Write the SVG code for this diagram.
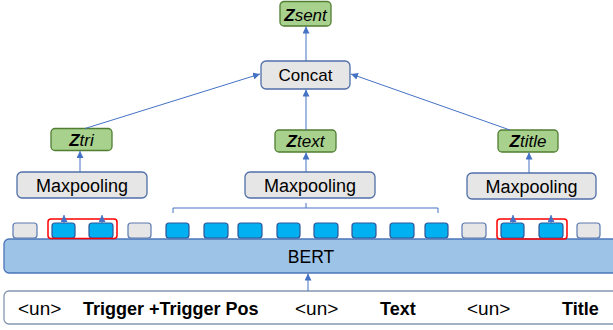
<svg xmlns="http://www.w3.org/2000/svg" width="613" height="330" viewBox="0 0 613 330">
  <style>
    text { font-family: "Liberation Sans", Arial, sans-serif; fill: #000; }
    .z { fill: #a9d18e; stroke: #507e32; stroke-width: 1.3; }
    .g { fill: #e7e6e6; stroke: #4f6fa8; stroke-width: 1.3; }
    .tokb { fill: #00b0f0; stroke: #2f5597; stroke-width: 1.2; }
    .tokg { fill: #e7e6e6; stroke: #5a7ab0; stroke-width: 1.2; }
    .sel { fill: none; stroke: #ff0000; stroke-width: 1.5; }
    .bert { fill: #9dc3e6; stroke: #4a76b8; stroke-width: 1.3; }
    .inp { fill: #ffffff; stroke: #8497b0; stroke-width: 1.3; }
    .lbl { font-size: 17px; font-style: italic; }
    .lbl .zz { font-weight: bold; }
    .mp { font-size: 18px; }
    .in { font-size: 18px; }
    .un { font-size: 19px; }
    .b { font-weight: bold; }
    .ln { fill: none; stroke: #4472c4; stroke-width: 1; }
  </style>
  <defs>
    <marker id="ah" viewBox="0 0 10 10" refX="10" refY="5" markerWidth="7" markerHeight="7" orient="auto" markerUnits="userSpaceOnUse">
      <path d="M0,0 L10,5 L0,10 z" fill="#4472c4"/>
    </marker>
  </defs>

  <!-- input sequence -->
  <g id="input">
    <rect class="inp" x="4" y="291" width="615" height="33" rx="5"/>
    <text class="un" x="18" y="315">&lt;un&gt;</text>
    <text class="in b" x="83" y="315">Trigger +Trigger Pos</text>
    <text class="un" x="295" y="315">&lt;un&gt;</text>
    <text class="in b" x="380" y="315">Text</text>
    <text class="un" x="467" y="315">&lt;un&gt;</text>
    <text class="in b" x="562" y="315" font-size="19">Title</text>
  </g>

  <!-- encoder -->
  <g id="bert">
    <rect class="bert" x="4" y="239" width="615" height="34" rx="5"/>
    <text x="311" y="263" font-size="17.5" text-anchor="middle">BERT</text>
  </g>

  <!-- token outputs -->
  <g id="tokens">
    <rect class="tokg" x="13" y="223" width="24" height="15" rx="3"/>
    <rect class="tokb" x="52" y="223" width="23" height="15" rx="3"/>
    <rect class="tokb" x="89" y="223" width="24" height="15" rx="3"/>
    <rect class="tokg" x="128" y="223" width="23" height="15" rx="3"/>
    <rect class="tokb" x="166" y="223" width="23" height="15" rx="3"/>
    <rect class="tokb" x="204" y="223" width="24" height="15" rx="3"/>
    <rect class="tokb" x="238" y="223" width="24" height="15" rx="3"/>
    <rect class="tokb" x="277" y="223" width="23" height="15" rx="3"/>
    <rect class="tokb" x="314" y="223" width="24" height="15" rx="3"/>
    <rect class="tokb" x="352" y="223" width="24" height="15" rx="3"/>
    <rect class="tokb" x="390" y="223" width="24" height="15" rx="3"/>
    <rect class="tokb" x="425" y="223" width="23" height="15" rx="3"/>
    <rect class="tokg" x="462" y="223" width="24" height="15" rx="3"/>
    <rect class="tokb" x="501" y="223" width="23" height="15" rx="3"/>
    <rect class="tokb" x="539" y="223" width="24" height="15" rx="3"/>
    <rect class="tokg" x="577" y="223" width="23" height="15" rx="3"/>
    <rect class="sel" x="48" y="219" width="69" height="19.5" rx="3"/>
    <rect class="sel" x="497" y="219" width="70" height="20" rx="3"/>
  </g>

  <!-- pooling -->
  <g id="maxpool-tri">
    <rect class="g" x="17" y="172" width="130" height="26" rx="5"/>
    <text class="mp" x="82" y="192" text-anchor="middle">Maxpooling</text>
  </g>
  <g id="maxpool-text">
    <rect class="g" x="245" y="172" width="130" height="26" rx="5"/>
    <text class="mp" x="310" y="192" text-anchor="middle">Maxpooling</text>
  </g>
  <g id="maxpool-title">
    <rect class="g" x="467" y="173" width="129" height="26" rx="5"/>
    <text class="mp" x="531.5" y="193" text-anchor="middle">Maxpooling</text>
  </g>

  <!-- pooled vectors -->
  <g id="z-tri">
    <rect class="z" x="51" y="128.5" width="61" height="22" rx="4"/>
    <text class="lbl" x="81.5" y="146" text-anchor="middle"><tspan class="zz">Z</tspan>tri</text>
  </g>
  <g id="z-text">
    <rect class="z" x="275" y="130" width="61" height="22" rx="4"/>
    <text class="lbl" x="305.5" y="146.5" text-anchor="middle"><tspan class="zz">Z</tspan>text</text>
  </g>
  <g id="z-title">
    <rect class="z" x="498" y="130" width="60" height="22" rx="4"/>
    <text class="lbl" x="528" y="147" text-anchor="middle"><tspan class="zz">Z</tspan>title</text>
  </g>

  <g id="concat">
    <rect class="g" x="261" y="61" width="89" height="28" rx="5"/>
    <text x="305.5" y="80.5" font-size="17" text-anchor="middle">Concat</text>
  </g>

  <g id="z-sent">
    <rect class="z" x="280" y="1.5" width="51" height="24.5" rx="4"/>
    <text class="lbl" x="305.5" y="20.5" text-anchor="middle"><tspan class="zz">Z</tspan>sent</text>
  </g>

  <!-- connectors -->
  <g id="connectors">
    <line class="ln" x1="308" y1="291" x2="308" y2="273.5" marker-end="url(#ah)"/>
    <line class="ln" x1="64" y1="223" x2="64" y2="215" marker-end="url(#ah)"/>
    <line class="ln" x1="102" y1="223" x2="102" y2="215" marker-end="url(#ah)"/>
    <line class="ln" x1="513" y1="223" x2="513" y2="215" marker-end="url(#ah)"/>
    <line class="ln" x1="551" y1="223" x2="551" y2="215" marker-end="url(#ah)"/>
    <path class="ln" d="M173,213 V208 H438 V213 M306,208 V203"/>
    <line class="ln" x1="80" y1="172" x2="80" y2="151" marker-end="url(#ah)"/>
    <line class="ln" x1="306" y1="172" x2="306" y2="152.5" marker-end="url(#ah)"/>
    <line class="ln" x1="529" y1="173" x2="529" y2="152.5" marker-end="url(#ah)"/>
    <line class="ln" x1="85" y1="128.5" x2="260" y2="74" marker-end="url(#ah)"/>
    <line class="ln" x1="306" y1="130" x2="306" y2="89.5" marker-end="url(#ah)"/>
    <line class="ln" x1="510" y1="130" x2="351" y2="74" marker-end="url(#ah)"/>
    <line class="ln" x1="306" y1="61" x2="306" y2="26.5" marker-end="url(#ah)"/>
  </g>
</svg>
